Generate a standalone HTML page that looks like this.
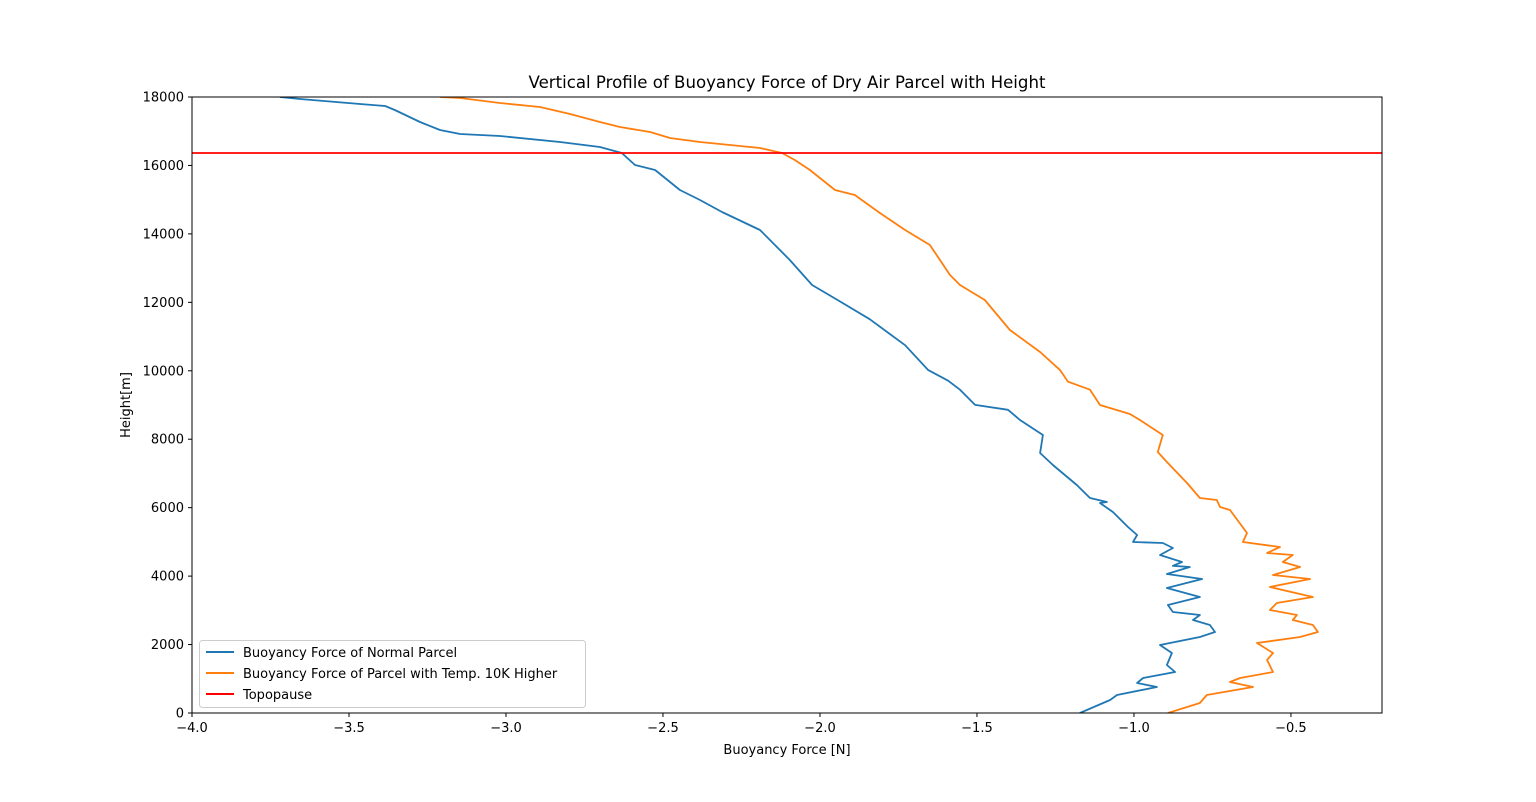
<!DOCTYPE html>
<html><head><meta charset="utf-8"><style>
html,body{margin:0;padding:0;background:#fff;}
svg{display:block;font-family:"DejaVu Sans","Liberation Sans",sans-serif;}
</style></head><body>
<svg id="chart" width="1536" height="802"></svg>
<script>
const xTicks=[-4.0,-3.5,-3.0,-2.5,-2.0,-1.5,-1.0,-0.5];
const xTickLabels=["−4.0","−3.5","−3.0","−2.5","−2.0","−1.5","−1.0","−0.5"];
const yTicks=[0,2000,4000,6000,8000,10000,12000,14000,16000,18000];
const tropopauseHeight=16363;
const blueX=[-1.172,-1.076,-1.054,-0.927,-0.990,-0.971,-0.869,-0.895,-0.879,-0.917,-0.790,-0.742,-0.758,-0.812,-0.790,-0.876,-0.892,-0.790,-0.895,-0.783,-0.895,-0.822,-0.876,-0.847,-0.917,-0.876,-0.908,-1.003,-0.990,-1.019,-1.067,-1.108,-1.086,-1.140,-1.182,-1.258,-1.299,-1.290,-1.363,-1.401,-1.506,-1.554,-1.592,-1.656,-1.729,-1.841,-1.936,-2.025,-2.096,-2.191,-2.312,-2.382,-2.446,-2.525,-2.589,-2.631,-2.701,-2.828,-3.019,-3.146,-3.210,-3.274,-3.354,-3.385,-3.465,-3.656,-3.720];
const blueH=[0,380,526,760,877,1023,1198,1403,1753,1987,2221,2367,2571,2717,2864,2951,3156,3390,3653,3915,4062,4266,4300,4412,4617,4821,4967,4997,5201,5435,5873,6136,6165,6282,6662,7247,7597,8123,8561,8860,9004,9446,9710,10025,10746,11504,12025,12506,13237,14113,14639,14990,15282,15866,16012,16363,16539,16685,16860,16918,17035,17269,17620,17737,17795,17941,18000];
const orangeX=[-0.892,-0.790,-0.768,-0.621,-0.694,-0.662,-0.557,-0.576,-0.557,-0.608,-0.471,-0.414,-0.430,-0.494,-0.481,-0.567,-0.545,-0.430,-0.567,-0.439,-0.557,-0.471,-0.526,-0.494,-0.576,-0.535,-0.653,-0.640,-0.694,-0.726,-0.736,-0.790,-0.831,-0.895,-0.924,-0.908,-0.981,-1.013,-1.108,-1.140,-1.210,-1.236,-1.299,-1.395,-1.475,-1.554,-1.586,-1.650,-1.729,-1.809,-1.889,-1.952,-2.032,-2.080,-2.121,-2.191,-2.382,-2.478,-2.541,-2.637,-2.701,-2.796,-2.892,-3.019,-3.146,-3.210];
const orangeH=[0,292,526,760,906,1023,1198,1549,1753,2045,2221,2367,2571,2717,2864,3010,3214,3390,3682,3915,4032,4266,4412,4617,4675,4851,4997,5260,5932,6019,6224,6282,6721,7335,7626,8123,8561,8737,9000,9446,9680,10025,10548,11191,12068,12506,12798,13675,14113,14610,15136,15282,15866,16159,16363,16510,16685,16802,16977,17123,17269,17503,17708,17824,17970,18000];

const L=192,R=1382,T=97,B=713,xmin=-4.0,xmax=-0.21,ymin=0,ymax=18000;
const sx=v=>L+(v-xmin)/(xmax-xmin)*(R-L);
const sy=v=>B-(v-ymin)/(ymax-ymin)*(B-T);
const svg=document.getElementById('chart');
const NS='http://www.w3.org/2000/svg';
function mk(tag,attrs,parent){const e=document.createElementNS(NS,tag);for(const k in attrs)e.setAttribute(k,attrs[k]);(parent||svg).appendChild(e);return e;}

const clip=mk('clipPath',{id:'clip'});mk('rect',{x:L,y:T,width:R-L,height:B-T},clip);

function series(xs,hs,color,name){
  const d=xs.map((x,i)=>(i?'L':'M')+sx(x).toFixed(1)+','+sy(hs[i]).toFixed(1)).join('');
  const p=mk('path',{d:d,fill:'none',stroke:color,'stroke-width':1.8,'stroke-linejoin':'round','clip-path':'url(#clip)'});
  
  
}
series(blueX,blueH,'#1f77b4','normal-parcel-line');
series(orangeX,orangeH,'#ff7f0e','warm-parcel-line');
const tl=mk('line',{x1:L,x2:R,y1:sy(tropopauseHeight),y2:sy(tropopauseHeight),stroke:'#ff0000','stroke-width':1.8});



const frame=mk('rect',{x:L,y:T,width:R-L,height:B-T,fill:'none',stroke:'#000','stroke-width':1});



xTicks.forEach((v,i)=>{
  const x=sx(v);
  const t=mk('line',{x1:x,x2:x,y1:B,y2:B+4,stroke:'#000'});
  
  
  const tx=mk('text',{x:x,y:B+19,'text-anchor':'middle','font-size':13,fill:'#000'});
  tx.textContent=xTickLabels[i];
  
  
});
yTicks.forEach(v=>{
  const y=sy(v);
  const t=mk('line',{x1:L-4,x2:L,y1:y,y2:y,stroke:'#000'});
  
  
  const tx=mk('text',{x:L-8,y:y+4.5,'text-anchor':'end','font-size':13,fill:'#000'});
  tx.textContent=String(v);
  
  
});
</script>
<svg style="position:absolute;left:0;top:0" width="1536" height="802">
<text x="787" y="88" text-anchor="middle" font-size="16.6">Vertical Profile of Buoyancy Force of Dry Air Parcel with Height</text>
<text x="787" y="754" text-anchor="middle" font-size="13">Buoyancy Force [N]</text>
<text x="130" y="405" text-anchor="middle" font-size="13" transform="rotate(-90 130 405)">Height[m]</text>
<g>
<rect x="199.5" y="640.5" width="386" height="67" rx="3" fill="#fff" fill-opacity="0.8" stroke="#ccc"/>
<line x1="206" x2="234" y1="652" y2="652" stroke="#1f77b4" stroke-width="2"/>
<text x="243" y="657" font-size="13">Buoyancy Force of Normal Parcel</text>
<line x1="206" x2="234" y1="673" y2="673" stroke="#ff7f0e" stroke-width="2"/>
<text x="243" y="678" font-size="13">Buoyancy Force of Parcel with Temp. 10K Higher</text>
<line x1="206" x2="234" y1="694" y2="694" stroke="#ff0000" stroke-width="2"/>
<text x="243" y="699" font-size="13">Topopause</text>
</g>
</svg>
</body></html>
